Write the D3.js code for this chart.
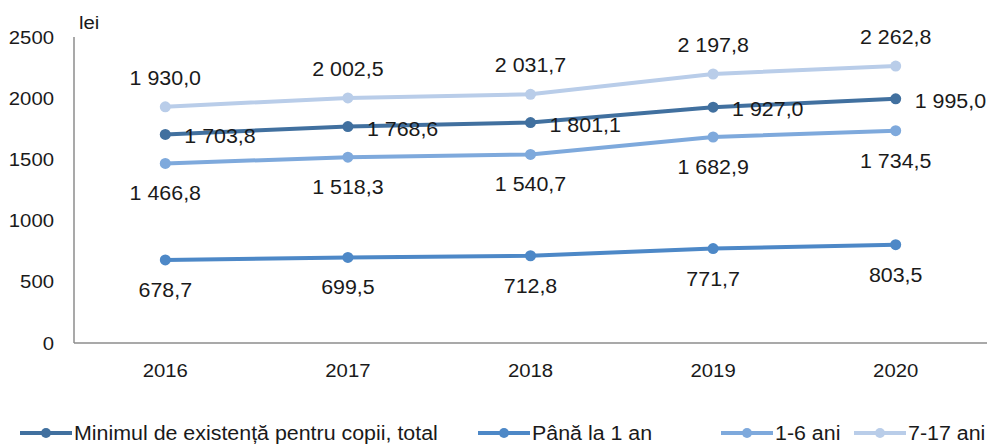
<!DOCTYPE html>
<html>
<head>
<meta charset="utf-8">
<script src="https://cdn.jsdelivr.net/npm/d3@7"></script>
<style>
  body { margin: 0; background: #fff; }
  svg text { font-family: "Liberation Sans", Arial, sans-serif; fill: #1a1a1a; }
</style>
</head>
<body>
<svg id="chart" width="988" height="445"></svg>
<script>
// data
var years = ["2016", "2017", "2018", "2019", "2020"];
var total = [1703.8, 1768.6, 1801.1, 1927.0, 1995.0];
var underOne = [678.7, 699.5, 712.8, 771.7, 803.5];
var age1to6 = [1466.8, 1518.3, 1540.7, 1682.9, 1734.5];
var age7to17 = [1930.0, 2002.5, 2031.7, 2197.8, 2262.8];
var yTicks = [0, 500, 1000, 1500, 2000, 2500];
var seriesNames = ["Minimul de existență pentru copii, total", "Până la 1 an", "1-6 ani", "7-17 ani"];

var series = [
  { name: seriesNames[0], values: total, color: "#41709f", label: "right" },
  { name: seriesNames[1], values: underOne, color: "#4d88c7", label: "below" },
  { name: seriesNames[2], values: age1to6, color: "#7ea9dc", label: "below" },
  { name: seriesNames[3], values: age7to17, color: "#b9cde9", label: "above" }
];
// legend x positions (line start)
var legendX = [20, 478, 721, 854];

var svg = d3.select("#chart");
var margin = { left: 74, right: 1, top: 37, bottom: 102 };
var width = 988 - margin.left - margin.right;
var height = 445 - margin.top - margin.bottom;
var stretch = 1.07; // text in the original is a little wide

var x = d3.scaleBand().domain(years).range([margin.left, margin.left + width]);
var y = d3.scaleLinear().domain([0, 2500]).range([margin.top + height, margin.top]);

function fmt(v) {
  var s = v.toFixed(1).replace(".", ",");
  var parts = s.split(",");
  var ip = parts[0];
  if (ip.length > 3) ip = ip.slice(0, ip.length - 3) + " " + ip.slice(-3);
  return ip + "," + parts[1];
}

// place a text at (tx, ty) with horizontal stretch
function put(sel, tx, ty) {
  return sel.attr("transform", function(d, i) {
    var px = typeof tx === "function" ? tx(d, i) : tx;
    var py = typeof ty === "function" ? ty(d, i) : ty;
    return "translate(" + px + "," + py + ") scale(" + stretch + ",1)";
  });
}

// axes lines
svg.append("line")
  .attr("x1", margin.left).attr("x2", margin.left)
  .attr("y1", y(2500)).attr("y2", y(0))
  .attr("stroke", "#8c8c8c").attr("stroke-width", 1.5);
svg.append("line")
  .attr("x1", margin.left).attr("x2", margin.left + width)
  .attr("y1", y(0)).attr("y2", y(0))
  .attr("stroke", "#8c8c8c").attr("stroke-width", 1.5);

// y tick labels
put(svg.selectAll(".ytick").data(yTicks).enter().append("text"), 54, function(d) { return y(d); })
  .attr("dy", "0.35em").attr("text-anchor", "end")
  .style("font-size", "19px")
  .text(function(d) { return d; });

put(svg.append("text"), 79, 29).style("font-size", "19px").text("lei");

// x labels
put(svg.selectAll(".xtick").data(years).enter().append("text"),
    function(d) { return x(d) + x.bandwidth() / 2; }, 377)
  .attr("text-anchor", "middle")
  .style("font-size", "19px")
  .text(function(d) { return d; });

var line = d3.line()
  .x(function(d, i) { return x(years[i]) + x.bandwidth() / 2; })
  .y(function(d) { return y(d); });

// draw series from back to front: 7-17, 1-6, under one, total
var order = [3, 2, 1, 0];
order.forEach(function(k) {
  var s = series[k];
  var g = svg.append("g");
  g.append("path").datum(s.values)
    .attr("d", line).attr("fill", "none")
    .attr("stroke", s.color).attr("stroke-width", 4);
  g.selectAll("circle").data(s.values).enter().append("circle")
    .attr("cx", function(d, i) { return x(years[i]) + x.bandwidth() / 2; })
    .attr("cy", function(d) { return y(d); })
    .attr("r", 5.5).attr("fill", s.color);
});

// labels on top
order.forEach(function(k) {
  var s = series[k];
  put(svg.append("g").selectAll("text").data(s.values).enter().append("text"),
    function(d, i) {
      var cx = x(years[i]) + x.bandwidth() / 2;
      return s.label === "right" ? cx + 19 : cx;
    },
    function(d) {
      if (s.label === "above") return y(d) - 29;
      if (s.label === "below") return y(d) + 30;
      return y(d) + 2;
    })
    .attr("dy", "0.35em")
    .attr("text-anchor", s.label === "right" ? "start" : "middle")
    .style("font-size", "20px")
    .text(function(d) { return fmt(d); });
});

// legend
var legend = svg.append("g");
series.forEach(function(s, i) {
  var lx = legendX[i];
  var item = legend.append("g");
  item.append("line")
    .attr("x1", lx).attr("x2", lx + 52)
    .attr("y1", 433).attr("y2", 433)
    .attr("stroke", s.color).attr("stroke-width", 4);
  item.append("circle").attr("cx", lx + 26).attr("cy", 433).attr("r", 5).attr("fill", s.color);
  put(item.append("text"), lx + 54, 433).attr("dy", "0.35em")
    .style("font-size", "20px")
    .text(s.name);
});
</script>
</body>
</html>
